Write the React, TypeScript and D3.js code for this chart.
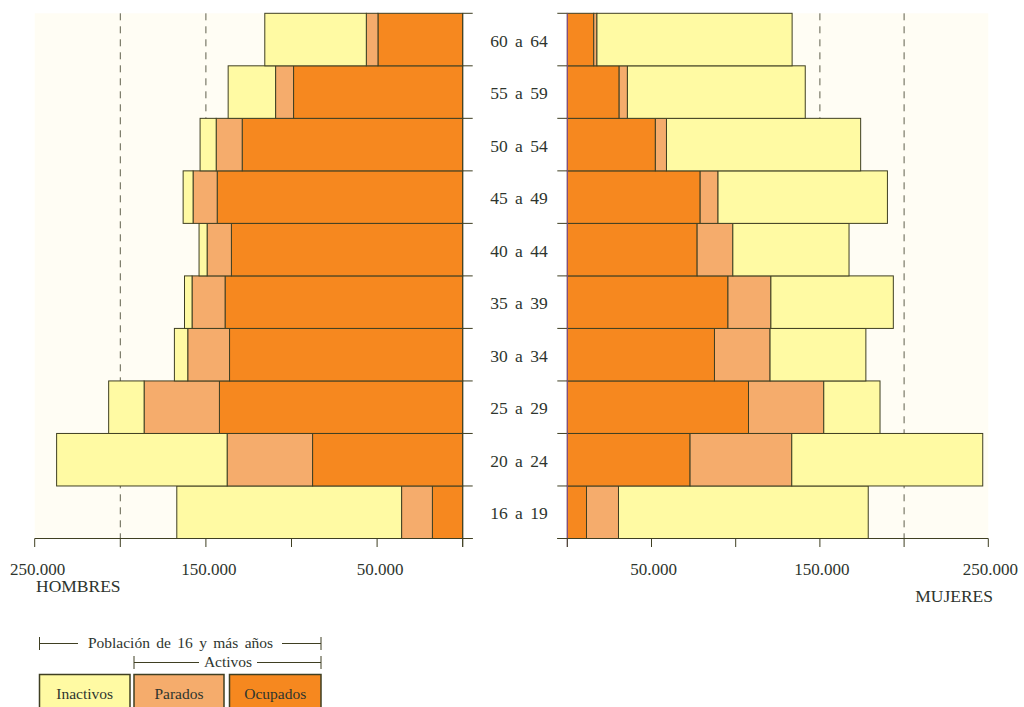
import React from "react";
import * as d3 from "d3";

const ageGroups = ["16 a 19", "20 a 24", "25 a 29", "30 a 34", "35 a 39", "40 a 44", "45 a 49", "50 a 54", "55 a 59", "60 a 64"];

// Hombres (persons)
const menOcupados = [17700, 87700, 142100, 136200, 138800, 135100, 143400, 128800, 98800, 49500];
const menParados = [18000, 49900, 44000, 24400, 19300, 14200, 14100, 15200, 10500, 6800];
const menInactivos = [131300, 99600, 20700, 7800, 4400, 4700, 5800, 9400, 27700, 59300];

// Mujeres (persons)
const womenOcupados = [11400, 72900, 107600, 87400, 95400, 77100, 78900, 52300, 30800, 15700];
const womenParados = [19000, 60400, 44700, 33000, 25500, 21200, 10600, 6600, 4900, 1900];
const womenInactivos = [148300, 113400, 33400, 56900, 72700, 69000, 100600, 115300, 105600, 115900];

const axisTicks = [0, 50000, 100000, 150000, 200000, 250000];
const labeledTicks = [50000, 150000, 250000];
const dashedTicks = [150000, 200000];

const seriesNames = ["Ocupados", "Parados", "Inactivos"];
const legendOrder = ["Inactivos", "Parados", "Ocupados"];

const COLORS: Record<string, string> = {
  Ocupados: "#f6881f",
  Parados: "#f5ac6c",
  Inactivos: "#fffaa3",
};

const FONT = "'Liberation Serif', 'Times New Roman', serif";
const TEXT = "#2e352e";
const STROKE = "#3f3f22";

const fmt = (v: number) => d3.format(",")(v).replace(/,/g, ".");

export default function App() {
  const top = 13.3;
  const bottom = 538.5;
  const y = d3.scaleBand<string>().domain([...ageGroups].reverse()).range([top, bottom]).padding(0);
  const xL = d3.scaleLinear().domain([0, 250000]).range([462.7, 34.7]);
  const xR = d3.scaleLinear().domain([0, 250000]).range([567.3, 988.3]);

  const men = [menOcupados, menParados, menInactivos];
  const women = [womenOcupados, womenParados, womenInactivos];

  const leftRects: JSX.Element[] = [];
  const rightRects: JSX.Element[] = [];
  ageGroups.forEach((g, i) => {
    let cum = 0;
    men.forEach((s, k) => {
      const v = s[i];
      const x1 = xL(cum + v);
      const x0 = xL(cum);
      leftRects.push(
        <rect key={`m${i}-${k}`} x={x1} y={y(g)} width={x0 - x1} height={y.bandwidth()}
          fill={COLORS[seriesNames[k]]} stroke={STROKE} strokeWidth={1} />
      );
      cum += v;
    });
    cum = 0;
    women.forEach((s, k) => {
      const v = s[i];
      const x0 = xR(cum);
      const x1 = xR(cum + v);
      rightRects.push(
        <rect key={`w${i}-${k}`} x={x0} y={y(g)} width={x1 - x0} height={y.bandwidth()}
          fill={COLORS[seriesNames[k]]} stroke={STROKE} strokeWidth={1} />
      );
      cum += v;
    });
  });

  const boundaries = d3.range(ageGroups.length + 1).map((i) => top + i * y.step());

  return (
    <svg width={1024} height={707} style={{ position: "absolute", left: 0, top: 0, background: "#ffffff" }}
      fontFamily={FONT}>
      {/* panel backgrounds */}
      <rect x={xL(250000)} y={top} width={xL(0) - xL(250000)} height={bottom - top} fill="#fffdf4" />
      <rect x={xR(0)} y={top} width={xR(250000) - xR(0)} height={bottom - top} fill="#fffdf4" />

      {/* dashed reference lines */}
      {dashedTicks.map((t) => (
        <g key={`d${t}`}>
          <line x1={xL(t)} x2={xL(t)} y1={top} y2={bottom} stroke="#5f5f4c" strokeWidth={1} strokeDasharray="7,6" />
          <line x1={xR(t)} x2={xR(t)} y1={top} y2={bottom} stroke="#5f5f4c" strokeWidth={1} strokeDasharray="7,6" />
        </g>
      ))}

      {leftRects}
      {rightRects}

      {/* row boundary ticks near the centre */}
      {boundaries.map((b, i) => (
        <g key={`b${i}`}>
          <line x1={xL(0)} x2={xL(0) + 10} y1={b} y2={b} stroke={STROKE} strokeWidth={1} />
          <line x1={xR(0) - 10} x2={xR(0)} y1={b} y2={b} stroke={STROKE} strokeWidth={1} />
        </g>
      ))}

      {/* centre vertical axes */}
      <line x1={xL(0)} x2={xL(0)} y1={top} y2={bottom + 8.5} stroke={STROKE} strokeWidth={1} />
      <line x1={xR(0)} x2={xR(0)} y1={top} y2={bottom + 8.5} stroke="#8e4f8e" strokeWidth={1} />

      {/* bottom axes */}
      <line x1={xL(250000)} x2={xL(0) + 10} y1={bottom} y2={bottom} stroke={STROKE} strokeWidth={1} />
      <line x1={xR(0) - 10} x2={xR(250000)} y1={bottom} y2={bottom} stroke={STROKE} strokeWidth={1} />
      {axisTicks.map((t) => (
        <g key={`t${t}`}>
          <line x1={xL(t)} x2={xL(t)} y1={bottom} y2={bottom + 8.5} stroke={STROKE} strokeWidth={1} />
          <line x1={xR(t)} x2={xR(t)} y1={bottom} y2={bottom + 8.5} stroke={STROKE} strokeWidth={1} />
        </g>
      ))}
      {labeledTicks.map((t) => (
        <g key={`l${t}`} fontSize={17} fill={TEXT} textAnchor="middle">
          <text x={xL(t) + 3} y={574.5}>{fmt(t)}</text>
          <text x={xR(t) + 2} y={574.5}>{fmt(t)}</text>
        </g>
      ))}

      <text x={36} y={592} fontSize={17.5} fill={TEXT}>HOMBRES</text>
      <text x={993} y={602} fontSize={17.5} fill={TEXT} textAnchor="end">MUJERES</text>

      {/* age labels */}
      {ageGroups.map((g) => (
        <text key={g} x={519} y={(y(g) as number) + y.bandwidth() / 2 + 7} fontSize={17.5} fill={TEXT}
          textAnchor="middle" wordSpacing={3}>{g}</text>
      ))}

      {/* legend */}
      <g fill={TEXT} fontSize={15.5}>
        <line x1={39.5} x2={39.5} y1={637} y2={650} stroke={STROKE} />
        <line x1={321} x2={321} y1={637} y2={650} stroke={STROKE} />
        <line x1={39.5} x2={78} y1={643.5} y2={643.5} stroke={STROKE} />
        <line x1={282} x2={321} y1={643.5} y2={643.5} stroke={STROKE} />
        <text x={180.5} y={648} textAnchor="middle" wordSpacing={2.5}>Población de 16 y más años</text>

        <line x1={134} x2={134} y1={656} y2={669} stroke={STROKE} />
        <line x1={321} x2={321} y1={656} y2={669} stroke={STROKE} />
        <line x1={134} x2={199} y1={662.5} y2={662.5} stroke={STROKE} />
        <line x1={257} x2={321} y1={662.5} y2={662.5} stroke={STROKE} />
        <text x={228} y={667} textAnchor="middle">Activos</text>

        {legendOrder.map((name, i) => {
          const xs = [39.5, 134, 229.5];
          const ws = [90.5, 90, 91.5];
          return (
            <g key={name}>
              <rect x={xs[i]} y={674.5} width={ws[i]} height={45} fill={COLORS[name]} stroke={STROKE} strokeWidth={1.5} />
              <text x={xs[i] + ws[i] / 2} y={699} textAnchor="middle">{name}</text>
            </g>
          );
        })}
      </g>
    </svg>
  );
}
